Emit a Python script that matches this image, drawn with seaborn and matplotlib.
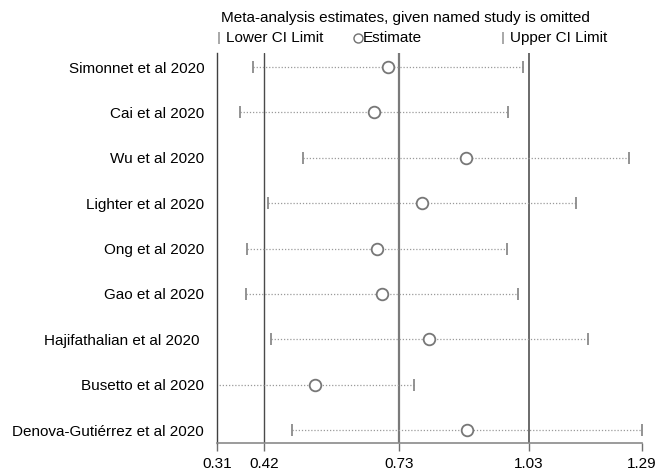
import matplotlib
matplotlib.use('Agg')
import matplotlib.pyplot as plt
from matplotlib.lines import Line2D
import seaborn as sns
import pandas as pd

# values (study omitted -> pooled estimate with CI)
studies = ['Simonnet et al 2020', 'Cai et al 2020', 'Wu et al 2020',
           'Lighter et al 2020', 'Ong et al 2020', 'Gao et al 2020',
           'Hajifathalian et al 2020 ', 'Busetto et al 2020',
           'Denova-Gutiérrez et al 2020']
lower = [0.393, 0.364, 0.508, 0.428, 0.379, 0.377, 0.435, 0.309, 0.484]
estimate = [0.705, 0.673, 0.884, 0.783, 0.680, 0.691, 0.800, 0.537, 0.886]
upper = [1.016, 0.982, 1.261, 1.138, 0.980, 1.005, 1.166, 0.766, 1.290]

ref_lines = [0.42, 0.73, 1.03]
xticks = [0.31, 0.42, 0.73, 1.03, 1.29]

df = pd.DataFrame({'study': studies, 'lower': lower,
                   'estimate': estimate, 'upper': upper})
df['pos'] = range(len(df))

sns.set_theme(style='white')
plt.rcParams['font.family'] = ['Liberation Sans', 'DejaVu Sans']
plt.rcParams['text.color'] = 'black'
plt.rcParams['xtick.labelcolor'] = 'black'
plt.rcParams['ytick.labelcolor'] = 'black'

fig = plt.figure(figsize=(6.64, 4.73), dpi=100)
ax = fig.add_axes([0.3264, 0.0628, 0.64, 0.8252])

# reference lines: overall CI and overall estimate
ax.axvline(ref_lines[0], color='#4a4a4a', lw=1.0, zorder=1)
ax.axvline(ref_lines[1], color='#7a7a7a', lw=1.6, zorder=1)
ax.axvline(ref_lines[2], color='#6a6a6a', lw=1.4, zorder=1)

# dotted CI lines with end caps
ax.hlines(df['pos'], df['lower'], df['upper'], colors='#9a9a9a',
          linestyles=(0, (1, 1.5)), lw=0.9, zorder=2)
ax.plot(df['lower'], df['pos'], ls='none', marker='|', ms=9, mew=1.3,
        color='#8a8a8a', zorder=3)
ax.plot(df['upper'], df['pos'], ls='none', marker='|', ms=9, mew=1.3,
        color='#8a8a8a', zorder=3)

sns.scatterplot(data=df, x='estimate', y='pos', ax=ax, marker='o', s=70,
                facecolor='white', edgecolor='#777777', linewidth=1.3,
                zorder=4, legend=False)

ax.set_xlim(0.31, 1.29)
ax.set_ylim(len(df) - 1 + 0.29, -0.31)
ax.set_xticks(xticks)
ax.set_xticklabels([f'{t:.2f}' for t in xticks])
ax.set_yticks(df['pos'])
ax.set_yticklabels(df['study'])
ax.set_xlabel('')
ax.set_ylabel('')

for side in ['top', 'right']:
    ax.spines[side].set_visible(False)
ax.spines['left'].set_color('#404040')
ax.spines['left'].set_linewidth(1.0)
ax.spines['bottom'].set_color('#8a8a8a')
ax.spines['bottom'].set_linewidth(1.2)

ax.tick_params(axis='x', direction='out', length=6, width=1.0, color='#707070',
               labelsize=11, pad=4, bottom=True)
ax.tick_params(axis='y', length=0, labelsize=11, pad=9)

# legend block at top
fig.text(221 / 664, 1 - 18 / 473, 'Meta-analysis estimates, given named study is omitted',
         fontsize=11, va='center', ha='left')
leg_y = 1 - 38 / 473
fig.add_artist(Line2D([219 / 664], [leg_y], marker='|', ms=8, mew=1.2,
                      color='#9a9a9a', transform=fig.transFigure, ls='none'))
fig.text(226 / 664, leg_y, 'Lower CI Limit', fontsize=11, va='center', ha='left')
fig.add_artist(Line2D([358 / 664], [leg_y], marker='o', ms=6.5, mew=1.0,
                      mfc='white', mec='#707070', transform=fig.transFigure, ls='none'))
fig.text(363 / 664, leg_y, 'Estimate', fontsize=11, va='center', ha='left')
fig.add_artist(Line2D([503 / 664], [leg_y], marker='|', ms=8, mew=1.2,
                      color='#9a9a9a', transform=fig.transFigure, ls='none'))
fig.text(510 / 664, leg_y, 'Upper CI Limit', fontsize=11, va='center', ha='left')

fig.savefig('out.png', dpi=100)
